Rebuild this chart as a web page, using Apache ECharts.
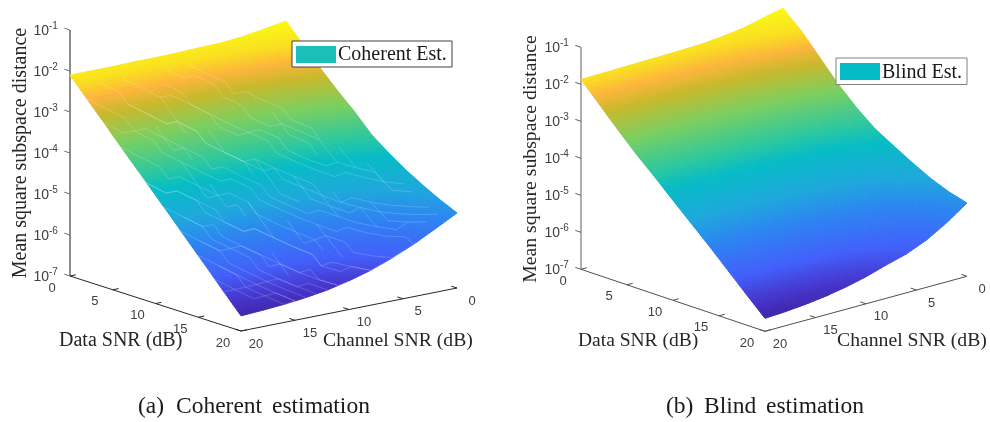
<!DOCTYPE html>
<html>
<head>
<meta charset="utf-8">
<style>html,body{margin:0;padding:0;background:#fff}#c{width:990px;height:422px}</style>
<script src="https://cdn.jsdelivr.net/npm/echarts@6/dist/echarts.min.js"></script>
</head>
<body>
<div id="c"></div>
<script>
// ---- data ----
const dataSnr = [0, 2, 4, 6, 8, 10, 12, 14, 16, 18, 20];
const channelSnr = [0, 2, 4, 6, 8, 10, 12, 14, 16, 18, 20];
const dataTicks = [0, 5, 10, 15, 20];
const channelTicks = [0, 5, 10, 15, 20];
const exponentTicks = [-1, -2, -3, -4, -5, -6, -7];
// log10(mean square subspace distance); rows = data SNR, columns = channel SNR
const coherentLog = [
  [-1.83,-1.92,-2.00,-2.05,-2.06,-2.08,-2.09,-2.09,-2.10,-2.10,-2.10],
  [-2.27,-2.34,-2.40,-2.45,-2.48,-2.50,-2.52,-2.53,-2.54,-2.55,-2.55],
  [-2.71,-2.78,-2.85,-2.90,-2.92,-2.95,-2.97,-2.98,-2.99,-3.00,-3.00],
  [-3.12,-3.21,-3.28,-3.34,-3.37,-3.41,-3.43,-3.44,-3.45,-3.46,-3.46],
  [-3.50,-3.60,-3.69,-3.76,-3.80,-3.84,-3.87,-3.88,-3.90,-3.91,-3.91],
  [-3.93,-4.04,-4.13,-4.21,-4.25,-4.29,-4.32,-4.33,-4.35,-4.36,-4.36],
  [-4.24,-4.38,-4.51,-4.60,-4.66,-4.72,-4.75,-4.77,-4.79,-4.80,-4.81],
  [-4.52,-4.71,-4.87,-5.00,-5.08,-5.15,-5.20,-5.22,-5.25,-5.26,-5.27],
  [-4.76,-4.98,-5.20,-5.37,-5.47,-5.57,-5.63,-5.66,-5.69,-5.71,-5.72],
  [-4.98,-5.24,-5.50,-5.71,-5.85,-5.98,-6.05,-6.10,-6.14,-6.17,-6.18],
  [-5.17,-5.45,-5.72,-5.95,-6.15,-6.30,-6.42,-6.50,-6.56,-6.60,-6.63]
];
const blindLog = [
  [-1.43,-1.55,-1.68,-1.75,-1.80,-1.82,-1.83,-1.84,-1.85,-1.86,-1.87],
  [-1.88,-2.01,-2.12,-2.20,-2.25,-2.30,-2.33,-2.35,-2.37,-2.38,-2.38],
  [-2.43,-2.54,-2.65,-2.72,-2.77,-2.82,-2.84,-2.86,-2.88,-2.89,-2.89],
  [-2.98,-3.08,-3.17,-3.24,-3.28,-3.32,-3.34,-3.35,-3.37,-3.38,-3.38],
  [-3.45,-3.55,-3.63,-3.69,-3.73,-3.77,-3.79,-3.80,-3.82,-3.83,-3.83],
  [-3.85,-3.96,-4.06,-4.14,-4.18,-4.23,-4.25,-4.27,-4.29,-4.30,-4.30],
  [-4.14,-4.29,-4.43,-4.54,-4.60,-4.66,-4.70,-4.72,-4.74,-4.75,-4.76],
  [-4.42,-4.62,-4.80,-4.93,-5.01,-5.09,-5.14,-5.16,-5.20,-5.21,-5.22],
  [-4.68,-4.94,-5.16,-5.33,-5.43,-5.54,-5.60,-5.63,-5.67,-5.69,-5.70],
  [-4.88,-5.20,-5.49,-5.71,-5.84,-5.97,-6.05,-6.09,-6.14,-6.17,-6.18],
  [-5.02,-5.40,-5.72,-5.95,-6.10,-6.27,-6.40,-6.50,-6.57,-6.62,-6.65]
];
// faint seams on the coherent surface: start (data dB, channel dB) + lattice moves
// d: data+1,channel-1   u: channel-1   s: data+1
const coherentSeams = [
  [1,10,'ddsuddsd'], [1,12,'dudsdsdudd'], [2,13,'dsdddudsddud'],
  [1,16,'dduddsdudsddduddsd'], [1,18,'dsddudsddudddsdudddd'], [3,17,'ddudsdddusddsdudddd'],
  [2,20,'ddsudddsuddsdduddddud'], [4,20,'dudsdddudsddddudddsdd'], [6,20,'ddsuddudsdddudsddudd'],
  [8,20,'sduddsdudddsuddudsdd'], [9,20,'dudsddudddsdudd'], [11,20,'ddusddsudddud'],
  [12,19,'dsdudddusddud'], [13,20,'ddudsddudd'], [14,19,'dsddudd'], [15,20,'ddsudddd'],
  [16,19,'ddudd'], [17,20,'duddu'], [18,20,'uduud'],
  [3,14,'sss'], [5,16,'ssus'], [6,12,'ssds'], [8,16,'sssu'], [9,10,'sssd'], [10,15,'ssus'],
  [11,8,'ssds'], [12,13,'sss'], [13,6,'sdss'], [14,11,'ssus'], [15,4,'ssd'], [16,14,'ss'], [15,9,'sss'],
  [6,6,'ssds'], [8,4,'sss'], [10,3,'ssds'], [12,2,'ssd']
];
const titles = { y: 'Mean square subspace distance', d: 'Data SNR (dB)', c: 'Channel SNR (dB)' };

// ---- layout and style ----
const panels = [
  { table: coherentLog, seams: coherentSeams, legend: 'Coherent Est.',
    o: [70, 276], dv: [171, 55], cv: [216, -43], dec: 41, lo: -6.65, hi: -1.83,
    zCol: '#707070', zW: 1.6, axisCol: '#262626',
    yLab: [21, 153, 20], dLab: [59, 341, 20], cLab: [323, 341, 19.7],
    box: [292, 41, 160, 26], sw: [296, 46, 40, 17], swCol: '#19bfb8', boxCol: '#404040',
    cap: [['(a)', 138], ['Coherent', 176], ['estimation', 272]] },
  { table: blindLog, seams: [], legend: 'Blind Est.',
    o: [581, 269.3], dv: [184, 62], cv: [202, -55], dec: 37, lo: -6.65, hi: -1.43,
    zCol: '#606060', zW: 1, axisCol: '#505050',
    yLab: [531, 159, 19.8], dLab: [578, 341, 19.5], cLab: [837, 341, 19.7],
    box: [836, 58, 131, 26.5], sw: [840, 63, 40, 17], swCol: '#05bcc6', boxCol: '#808080',
    cap: [['(b)', 666], ['Blind', 704], ['estimation', 766]] }
];
const cmap = [
  [0, [62,38,168]], [.067, [70,55,207]], [.153, [66,96,251]], [.278, [45,132,242]],
  [.374, [30,168,220]], [.489, [6,188,198]], [.556, [44,200,160]], [.68, [124,207,96]],
  [.785, [200,185,44]], [.85, [253,181,60]], [.91, [250,223,32]], [1, [249,251,21]]
];
function color(t) {
  t = Math.max(0, Math.min(1, t));
  for (let i = 1; i < cmap.length; i++) {
    if (t <= cmap[i][0]) {
      const a = cmap[i - 1], b = cmap[i], f = (t - a[0]) / (b[0] - a[0]);
      return 'rgb(' + [0, 1, 2].map(k => Math.round(a[1][k] + f * (b[1][k] - a[1][k]))).join(',') + ')';
    }
  }
  return 'rgb(249,251,21)';
}
function zAt(p, d, c) {
  const x = d / 2, y = c / 2, i = Math.min(9, Math.floor(x)), j = Math.min(9, Math.floor(y));
  const u = x - i, v = y - j, T = p.table;
  return (1 - u) * ((1 - v) * T[i][j] + v * T[i][j + 1]) + u * ((1 - v) * T[i + 1][j] + v * T[i + 1][j + 1]);
}
function project(api, p, d, c, z) {
  const a = d / 20, b = (20 - c) / 20;
  return api.coord([
    p.o[0] + a * p.dv[0] + b * p.cv[0],
    p.o[1] + a * p.dv[1] + b * p.cv[1] - (z + 7) * p.dec
  ]);
}
const SUB = 8;
function surfaceSeries(p) {
  const cells = [];
  for (let i = 0; i < dataSnr.length - 1; i++)
    for (let j = 0; j < channelSnr.length - 1; j++)
      cells.push([dataSnr[i], channelSnr[j], p.table[i][j]]);
  return {
    type: 'custom', coordinateSystem: 'cartesian2d', silent: true, animation: false, clip: false,
    encode: { x: 0, y: 1 }, data: cells,
    renderItem(params, api) {
      const d0 = api.value(0), c0 = api.value(1), children = [], s = 2 / SUB;
      for (let m = 0; m < SUB; m++) for (let n = 0; n < SUB; n++) {
        const ds = [d0 + m * s, d0 + (m + 1) * s], cs = [c0 + n * s, c0 + (n + 1) * s];
        const pts = [[ds[0], cs[0]], [ds[1], cs[0]], [ds[1], cs[1]], [ds[0], cs[1]]]
          .map(q => project(api, p, q[0], q[1], zAt(p, q[0], q[1])));
        const col = color((zAt(p, (ds[0] + ds[1]) / 2, (cs[0] + cs[1]) / 2) - p.lo) / (p.hi - p.lo));
        children.push({ type: 'polygon', shape: { points: pts }, style: { fill: col, stroke: col, lineWidth: 1 } });
      }
      return { type: 'group', children };
    }
  };
}
function seamSeries(p) {
  return {
    type: 'custom', coordinateSystem: 'cartesian2d', silent: true, animation: false, clip: false,
    encode: { x: 0, y: 1 }, data: p.seams.map(s => [s[0], s[1]]),
    renderItem(params, api) {
      const seam = p.seams[params.dataIndex];
      let d = seam[0], c = seam[1];
      const pts = [project(api, p, d, c, zAt(p, d, c))];
      for (const mv of seam[2]) {
        const nd = d + (mv === 'u' ? 0 : 1), nc = c - (mv === 's' ? 0 : 1);
        if (nd > 20 || nc < 0) break;
        d = nd; c = nc;
        pts.push(project(api, p, d, c, zAt(p, d, c)));
      }
      return { type: 'polyline', shape: { points: pts },
        style: { fill: 'none', stroke: 'rgba(255,255,255,0.3)', lineWidth: 0.6 } };
    }
  };
}
function txt(pos, text, font, fill, align, vAlign, rotation) {
  return { type: 'text', x: pos[0], y: pos[1], rotation: rotation || 0,
    style: { text, font, fill, align, verticalAlign: vAlign, textAlign: align, textVerticalAlign: vAlign } };
}
function line(a, b, stroke, lineWidth) {
  return { type: 'line', shape: { x1: a[0], y1: a[1], x2: b[0], y2: b[1] }, style: { stroke, lineWidth } };
}
const SANS = '"Liberation Sans", Arial, sans-serif';
const SERIF = '"Liberation Serif", "Times New Roman", serif';
function chromeBack(p) {
  return {
    type: 'custom', coordinateSystem: 'cartesian2d', silent: true, animation: false, clip: false,
    encode: { x: 0, y: 1 }, data: [[0, 0]],
    renderItem(params, api) {
      const ch = [];
      const floor = (d, c) => project(api, p, d, c, -7);
      ch.push(line(floor(0, 20), floor(20, 20), p.axisCol, 1));
      ch.push(line(floor(20, 20), floor(20, 0), p.axisCol, 1));
      ch.push(line(project(api, p, 0, 20, -1), floor(0, 20), p.zCol, p.zW));
      const tickD = [p.cv[0] / Math.hypot(p.cv[0], p.cv[1]) * 6, p.cv[1] / Math.hypot(p.cv[0], p.cv[1]) * 6];
      const tickC = [-p.dv[0] / Math.hypot(p.dv[0], p.dv[1]) * 6, -p.dv[1] / Math.hypot(p.dv[0], p.dv[1]) * 6];
      dataTicks.forEach(v => {
        const a = floor(v, 20);
        ch.push(line(a, [a[0] + tickD[0], a[1] + tickD[1]], p.axisCol, 1));
        ch.push(txt([a[0] - 18, a[1] + 12], String(v), '13px ' + SANS, '#404040', 'center', 'middle'));
      });
      channelTicks.forEach(v => {
        const a = floor(20, v);
        ch.push(line(a, [a[0] + tickC[0], a[1] + tickC[1]], p.axisCol, 1));
        ch.push(txt([a[0] + 15, a[1] + 13], String(v), '13px ' + SANS, '#404040', 'center', 'middle'));
      });
      exponentTicks.forEach(v => {
        const a = project(api, p, 0, 20, v);
        ch.push(line(a, [a[0] + tickC[0], a[1] + tickC[1]], p.zCol, 1));
        ch.push(txt([a[0] - 21, a[1] + 1], '10', '14px ' + SANS, '#404040', 'right', 'middle'));
        ch.push(txt([a[0] - 21, a[1] - 4], String(v), '10px ' + SANS, '#404040', 'left', 'middle'));
      });
      ch.push(txt([p.yLab[0], p.yLab[1]], titles.y, p.yLab[2] + 'px ' + SERIF, '#262626', 'center', 'middle', Math.PI / 2));
      ch.push(txt([p.dLab[0], p.dLab[1]], titles.d, p.dLab[2] + 'px ' + SERIF, '#262626', 'left', 'middle'));
      ch.push(txt([p.cLab[0], p.cLab[1]], titles.c, p.cLab[2] + 'px ' + SERIF, '#262626', 'left', 'middle'));
      p.cap.forEach(w => ch.push(txt([w[1], 406.5], w[0], '23.5px ' + SERIF, '#1a1a1a', 'left', 'middle')));
      return { type: 'group', children: ch };
    }
  };
}
function legendSeries(p) {
  return {
    type: 'custom', coordinateSystem: 'cartesian2d', silent: true, animation: false, clip: false,
    encode: { x: 0, y: 1 }, data: [[0, 0]],
    renderItem() {
      return { type: 'group', children: [
        { type: 'rect', shape: { x: p.box[0], y: p.box[1], width: p.box[2], height: p.box[3] },
          style: { fill: '#fff', stroke: p.boxCol, lineWidth: 1 } },
        { type: 'rect', shape: { x: p.sw[0], y: p.sw[1], width: p.sw[2], height: p.sw[3] }, style: { fill: p.swCol } },
        txt([p.sw[0] + p.sw[2] + 2, p.box[1] + p.box[3] / 2 + 1], p.legend, '20px ' + SERIF, '#1a1a1a', 'left', 'middle')
      ] };
    }
  };
}
const chart = echarts.init(document.getElementById('c'), null, { renderer: 'canvas' });
chart.setOption({
  backgroundColor: '#fff',
  animation: false,
  grid: { left: 0, top: 0, width: 990, height: 422, containLabel: false },
  xAxis: { type: 'value', min: 0, max: 990, show: false },
  yAxis: { type: 'value', min: 0, max: 422, inverse: true, show: false },
  series: panels.flatMap(p => [chromeBack(p), surfaceSeries(p), seamSeries(p), legendSeries(p)])
});
</script>
</body>
</html>
